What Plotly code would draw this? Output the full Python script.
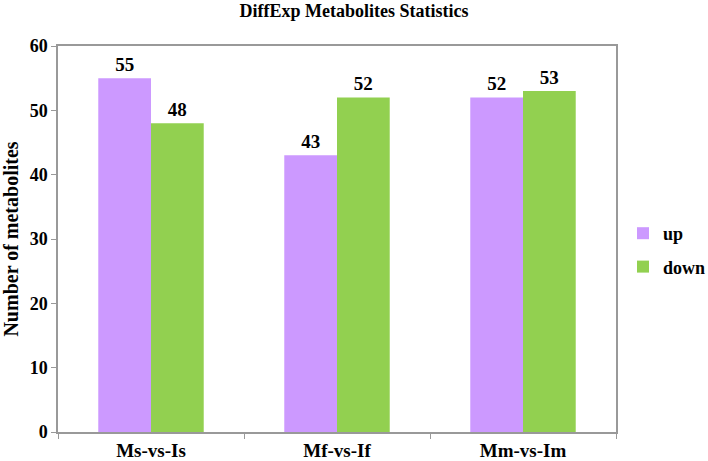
import plotly.graph_objects as go

categories = ["Ms-vs-Is", "Mf-vs-If", "Mm-vs-Im"]
up_values = [55, 43, 52]
down_values = [48, 52, 53]
y_ticks = [0, 10, 20, 30, 40, 50, 60]

FONT = "Liberation Serif"
W, H = 708, 461
L, R, T, B = 58, 92, 46, 29

fig = go.Figure()
fig.add_trace(go.Bar(
    x=categories, y=up_values, name="<b>up</b>", marker=dict(color="#CC99FF", line=dict(width=0)),
    text=["<b>%d</b>" % v for v in up_values], textposition="outside",
    textfont=dict(family=FONT, size=19, color="black"),
    cliponaxis=False, legendgroup="a",
))
fig.add_trace(go.Bar(
    x=categories, y=down_values, name="<b>down</b>", marker=dict(color="#92D050", line=dict(width=0)),
    text=["<b>%d</b>" % v for v in down_values], textposition="outside",
    textfont=dict(family=FONT, size=19, color="black"),
    cliponaxis=False, legendgroup="b",
))

plot_w = W - L - R
plot_h = H - T - B

fig.update_layout(
    width=W, height=H,
    margin=dict(l=L, r=R, t=T, b=B, autoexpand=False),
    paper_bgcolor="white", plot_bgcolor="white",
    barmode="group", bargap=0.433, bargroupgap=0,
    font=dict(family=FONT, size=18, color="black"),
    title=dict(text="<b>DiffExp Metabolites Statistics</b>", x=0.5, xanchor="center",
               y=1 - 11 / H, yanchor="middle", font=dict(family=FONT, size=18, color="black")),
    legend=dict(x=(623 - L) / plot_w, y=(H - B - 250) / plot_h, xanchor="left", yanchor="middle",
                font=dict(family=FONT, size=18, color="black"),
                tracegroupgap=7, bgcolor="rgba(0,0,0,0)"),
)

fig.update_xaxes(
    type="category", range=[-0.5, 2.5], showline=True, linecolor="#999999", linewidth=1.5,
    mirror=True, ticks="outside", tickson="boundaries", ticklen=5, tickcolor="#999999",
    tickfont=dict(family=FONT, size=19, color="black"), showgrid=False, automargin=False,
    tickvals=categories, ticktext=["<b>" + c + "</b>" for c in categories],
)
fig.update_yaxes(
    range=[0, 60], tickvals=y_ticks, ticktext=["<b>%d</b>" % v for v in y_ticks],
    showline=True, linecolor="#999999", linewidth=1.5, mirror=True,
    ticks="outside", ticklen=5, tickcolor="#999999", showgrid=False, zeroline=False,
    tickfont=dict(family=FONT, size=18, color="black"), automargin=False,
    title=dict(text="<b>Number of metabolites</b>", font=dict(family=FONT, size=20, color="black"), standoff=12),
)

fig.write_html("out.html", config={"displayModeBar": False},
               post_script="document.body.style.margin='0';")
